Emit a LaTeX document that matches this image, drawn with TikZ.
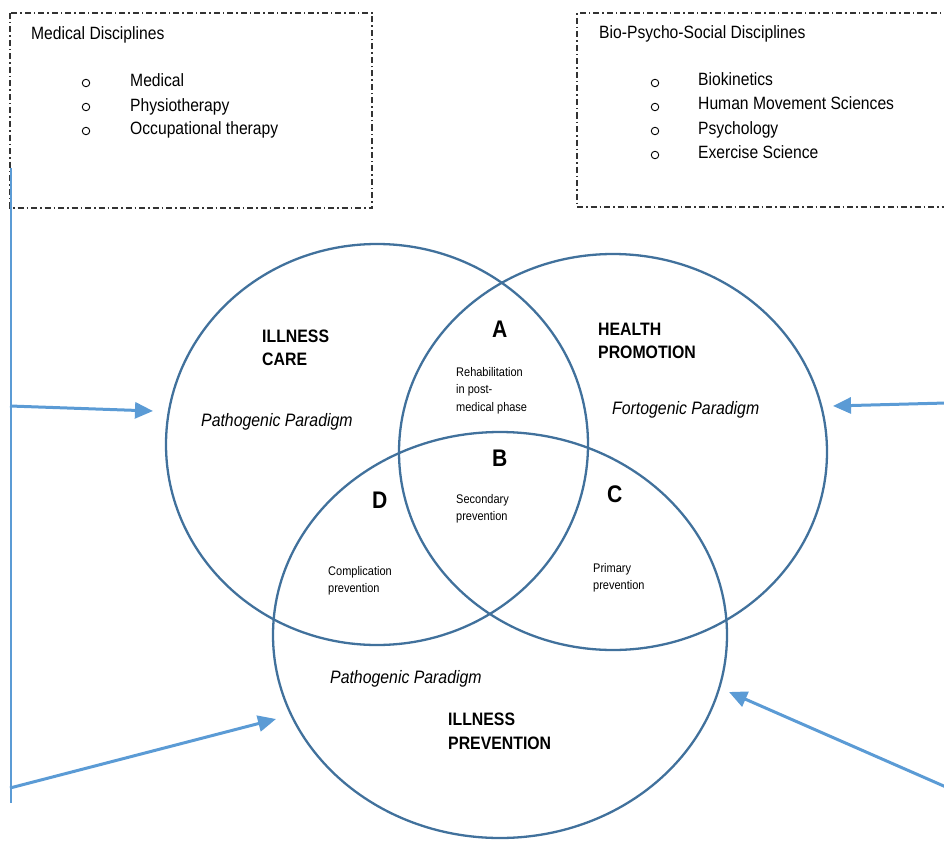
\documentclass[tikz,border=0pt]{standalone}
\usepackage{fontspec}
\setmainfont[FakeStretch=0.88]{Liberation Sans}
\usetikzlibrary{arrows.meta,shapes.geometric}
\definecolor{ringblue}{HTML}{41719C}
\definecolor{arrowblue}{HTML}{5B9BD5}
\definecolor{boxgray}{HTML}{333333}
\tikzset{
  txt/.style={inner sep=0pt, anchor=base west, font=\fontsize{17.8}{20}\selectfont},
  bld/.style={inner sep=0pt, anchor=base west, font=\fontsize{18}{20}\selectfont\bfseries},
  itl/.style={inner sep=0pt, anchor=base west, font=\fontsize{18}{20}\selectfont\itshape},
  sml/.style={inner sep=0pt, anchor=base west, font=\fontsize{12.5}{14}\selectfont},
  letter/.style={inner sep=0pt, anchor=base west, font=\fontsize{24}{26}\selectfont\bfseries},
  ring/.style={ellipse, draw=ringblue, line width=2.3pt, inner sep=0pt, outer sep=0pt},
  dotbox/.style={draw=boxgray, line width=1.1pt, dash pattern=on 6pt off 3pt on 1.5pt off 3pt},
  bulletmark/.style={circle, draw=black, line width=0.9pt, minimum size=7.5pt, inner sep=0pt},
  feed/.style={draw=arrowblue, line width=3pt, -{Triangle[length=18pt,width=16pt]}},
  rail/.style={draw=arrowblue, line width=1.4pt}
}
\begin{document}
\begin{tikzpicture}[x=1pt,y=-1pt]
\useasboundingbox (0,0) rectangle (944,840);
\clip (0,0) rectangle (944,840);

% boxes
\draw[dotbox] (10,13) rectangle (372,208);
\draw[dotbox] (950,13) -- (577,13) -- (577,207) -- (950,207);

% left box text
\node[txt] (medtitle) at (31,40) {Medical Disciplines};
\node[bulletmark] (mb1) at (86,83) {};
\node[bulletmark] (mb2) at (86,107) {};
\node[bulletmark] (mb3) at (86,131) {};
\node[txt] (m1) at (130,87) {Medical};
\node[txt] (m2) at (130,111) {Physiotherapy};
\node[txt] (m3) at (130,135) {Occupational therapy};

% right box text
\node[txt] (biotitle) at (599,39) {Bio-Psycho-Social Disciplines};
\node[bulletmark] (bb1) at (655,83) {};
\node[bulletmark] (bb2) at (655,107) {};
\node[bulletmark] (bb3) at (655,131) {};
\node[bulletmark] (bb4) at (655,155) {};
\node[txt] (b1) at (698,86) {Biokinetics};
\node[txt] (b2) at (698,110) {Human Movement Sciences};
\node[txt] (b3) at (698,134) {Psychology};
\node[txt] (b4) at (698,158) {Exercise Science};

% circles
\node[ring, minimum width=422pt, minimum height=401pt] (care) at (377,444.5) {};
\node[ring, minimum width=428pt, minimum height=396pt] (promo) at (613,452) {};
\node[ring, minimum width=454pt, minimum height=406pt] (prev) at (500,635) {};

% circle labels
\node[bld] (care1) at (262,342) {ILLNESS};
\node[bld] (care2) at (262,365) {CARE};
\node[itl] (carep) at (201,426) {Pathogenic Paradigm};
\node[bld] (promo1) at (598,335) {HEALTH};
\node[bld] (promo2) at (598,358) {PROMOTION};
\node[itl] (promop) at (612,414) {Fortogenic Paradigm};
\node[itl] (prevp) at (330,683) {Pathogenic Paradigm};
\node[bld] (prev1) at (448,725) {ILLNESS};
\node[bld] (prev2) at (448,749) {PREVENTION};

% overlap labels
\node[letter] (la) at (492,337) {A};
\node[sml] (a1) at (456,376) {Rehabilitation};
\node[sml] (a2) at (456,393) {in post-};
\node[sml] (a3) at (456,411) {medical phase};
\node[letter] (lb) at (492,466) {B};
\node[sml] (b1s) at (456,503) {Secondary};
\node[sml] (b2s) at (456,520) {prevention};
\node[letter] (lc) at (607,502) {C};
\node[sml] (c1) at (593,572) {Primary};
\node[sml] (c2) at (593,589) {prevention};
\node[letter] (ld) at (372,508) {D};
\node[sml] (d1) at (328,575) {Complication};
\node[sml] (d2) at (328,592) {prevention};

% arrows
\coordinate (vtop) at (11,168);
\coordinate (vbot) at (11,803);
\coordinate (l1s) at (10,406);
\coordinate (l1e) at (153,411);
\coordinate (l2s) at (10,788);
\coordinate (l2e) at (276,719);
\coordinate (r1s) at (946,403);
\coordinate (r1e) at (833,406);
\coordinate (r2s) at (946,787);
\coordinate (r2e) at (729,692);
\draw[rail] (vtop) -- (vbot);
\draw[feed] (l1s) -- (l1e);
\draw[feed] (l2s) -- (l2e);
\draw[feed] (r1s) -- (r1e);
\draw[feed] (r2s) -- (r2e);
\end{tikzpicture}
\end{document}
